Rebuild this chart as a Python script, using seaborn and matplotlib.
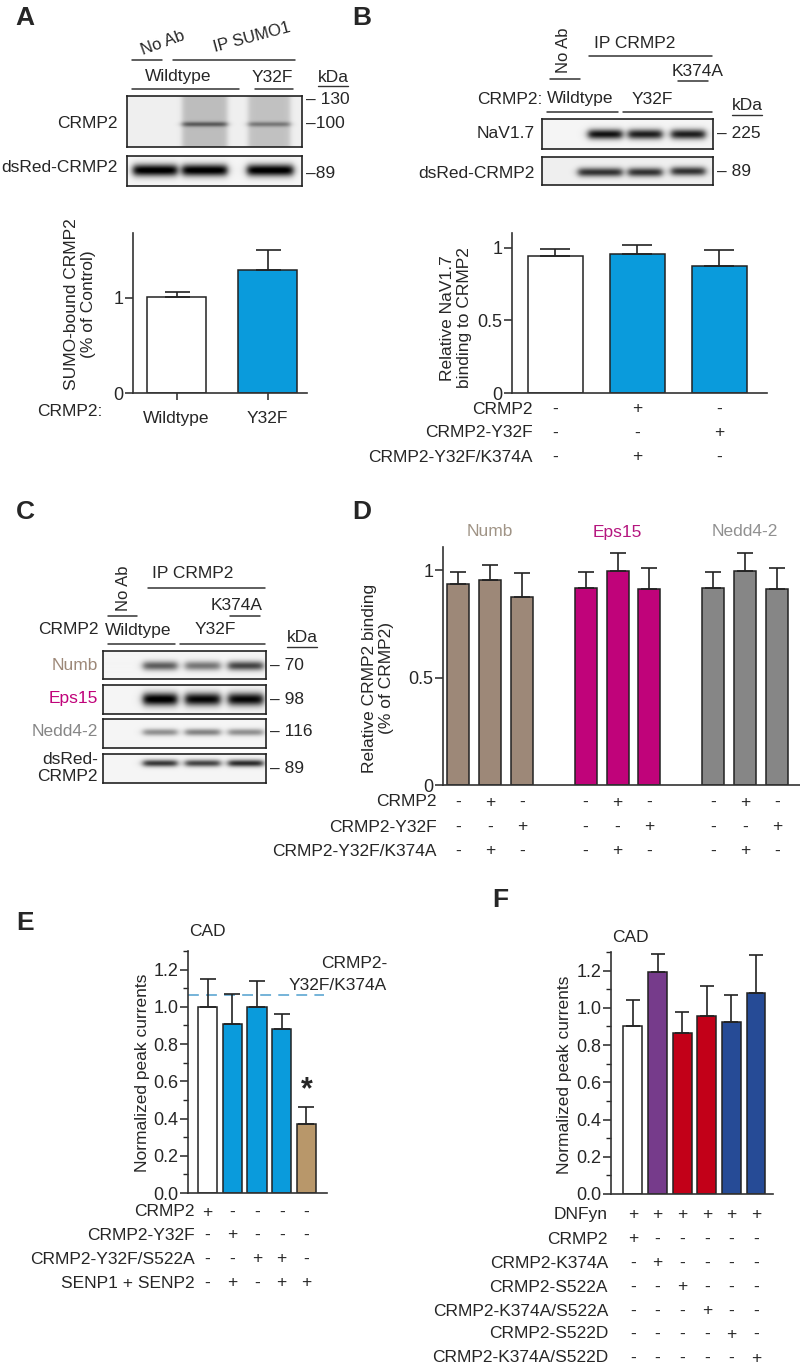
import numpy as np
import pandas as pd
import seaborn as sns
import matplotlib.pyplot as plt
from matplotlib.lines import Line2D
from matplotlib import transforms

# ---- data ----
# A: SUMO-bound CRMP2
a_labels = ['Wildtype', 'Y32F']
a_means = [1.01, 1.29]
a_errs = [0.05, 0.21]

# B: NaV1.7 binding to CRMP2
b_means = [0.94, 0.955, 0.876]
b_errs = [0.05, 0.065, 0.105]
b_rows = ['CRMP2', 'CRMP2-Y32F', 'CRMP2-Y32F/K374A']
b_signs = [['-', '+', '-'], ['-', '-', '+'], ['-', '+', '-']]

# D: relative CRMP2 binding per partner
d_partners = ['Numb', 'Eps15', 'Nedd4-2']
d_numb = [0.938, 0.953, 0.876]
d_numb_err = [0.052, 0.07, 0.109]
d_eps15 = [0.915, 0.995, 0.912]
d_eps15_err = [0.075, 0.087, 0.098]
d_nedd = [0.915, 0.995, 0.912]
d_nedd_err = [0.075, 0.087, 0.098]

# E: CAD peak currents
e_means = [1.0, 0.91, 1.0, 0.88, 0.37]
e_errs = [0.15, 0.16, 0.14, 0.08, 0.09]
e_ref = 1.066
e_rows = ['CRMP2', 'CRMP2-Y32F', 'CRMP2-Y32F/S522A', 'SENP1 + SENP2']
e_signs = [['+', '-', '-', '-', '-'],
           ['-', '+', '-', '-', '-'],
           ['-', '-', '+', '+', '-'],
           ['-', '+', '-', '+', '+']]

# F: CAD peak currents with DNFyn
f_means = [0.90, 1.19, 0.865, 0.955, 0.925, 1.08]
f_errs = [0.14, 0.10, 0.115, 0.16, 0.145, 0.205]
f_rows = ['DNFyn', 'CRMP2', 'CRMP2-K374A', 'CRMP2-S522A', 'CRMP2-K374A/S522A',
          'CRMP2-S522D', 'CRMP2-K374A/S522D']
f_signs = [['+'] * 6,
           ['+', '-', '-', '-', '-', '-'],
           ['-', '+', '-', '-', '-', '-'],
           ['-', '-', '+', '-', '-', '-'],
           ['-', '-', '-', '+', '-', '-'],
           ['-', '-', '-', '-', '+', '-'],
           ['-', '-', '-', '-', '-', '+']]

BLUE = '#0a9bdc'
NUMB_C, EPS_C, NEDD_C = '#9d8878', '#c0037a', '#868686'

sns.set_style('ticks')
plt.rcParams['font.family'] = ['Liberation Sans', 'DejaVu Sans']
plt.rcParams['font.size'] = 12

W, H = 800, 1370
fig = plt.figure(figsize=(W / 100, H / 100), dpi=100)


def px_axes(x0, y0, x1, y1):
    return fig.add_axes([x0 / W, 1 - y1 / H, (x1 - x0) / W, (y1 - y0) / H])


def T(x, y, s, ha='center', va='center', **kw):
    fig.text(x / W, 1 - y / H, s, ha=ha, va=va, **kw)


def L(x0, x1, y, lw=1.1, color='#333333'):
    fig.add_artist(Line2D([x0 / W, x1 / W], [1 - y / H, 1 - y / H], lw=lw, color=color))


def blot(x0, y0, x1, y1, bands, bg=0.05, smears=()):
    ax = px_axes(x0, y0, x1, y1)
    xs = np.arange(x0, x1, 0.5)
    ys = np.arange(y0, y1, 0.5)
    X, Y = np.meshgrid(xs, ys)
    img = np.full(X.shape, bg)
    for (bx0, bx1, strength) in smears:
        prof = 0.5 * (np.tanh((X - bx0) / 3) - np.tanh((X - bx1) / 3))
        img += strength * prof
    for (bx0, bx1, yc, t, strength) in bands:
        prof = 0.5 * (np.tanh((X - bx0) / 4) - np.tanh((X - bx1) / 4))
        img += strength * prof * np.exp(-((Y - yc) / t) ** 2)
    ax.imshow(np.clip(img, 0, 1), cmap='gray_r', vmin=0, vmax=1, aspect='auto',
              extent=[x0, x1, y1, y0], interpolation='bilinear')
    ax.set_xticks([])
    ax.set_yticks([])
    for s in ax.spines.values():
        s.set_linewidth(1.2)
        s.set_color('#222222')
    return ax


def bar_panel(rect, order, cats, means, errs, colors, width, ylim, xlim, capsize):
    ax = px_axes(*rect)
    df = pd.DataFrame({'cat': cats, 'val': means})
    sns.barplot(data=df, x='cat', y='val', hue='cat', order=order,
                palette=dict(zip(cats, colors)), dodge=False, width=width, saturation=1,
                edgecolor='#222222', linewidth=1.1, errorbar=None, legend=False, ax=ax)
    pos = [order.index(c) for c in cats]
    ax.errorbar(pos, means, yerr=[np.zeros(len(errs)), errs], fmt='none',
                ecolor='#222222', elinewidth=1.2, capsize=capsize, capthick=1.2)
    ax.set_ylim(*ylim)
    ax.set_xlim(*xlim)
    ax.set_xlabel('')
    ax.set_ylabel('')
    sns.despine(ax=ax)
    for s in ['left', 'bottom']:
        ax.spines[s].set_linewidth(1.2)
        ax.spines[s].set_color('#333333')
    ax.tick_params(axis='y', labelsize=13, length=6, width=1.1, pad=1)
    ax.tick_params(axis='x', length=0)
    ax.set_xticks([])
    return ax, pos


def sign_table(ax, pos, rows, signs, row_y, label_x, fs=12.5):
    tr = transforms.blended_transform_factory(ax.transData, fig.transFigure)
    for r, row in enumerate(rows):
        T(label_x, row_y[r], row, ha='right', fontsize=fs)
        for p, s in zip(pos, signs[r]):
            ax.text(p, 1 - row_y[r] / H, s, transform=tr, ha='center', va='center', fontsize=fs)


# ================= Panel A =================
T(25, 18, 'A', fontsize=19, fontweight='bold')
T(163, 43, 'No Ab', rotation=20, fontsize=12)
T(252, 37, 'IP SUMO1', rotation=15, fontsize=12)
L(132, 162, 60)
L(173, 295, 60)
T(178, 77, 'Wildtype', fontsize=12.5)
T(272, 77, 'Y32F', fontsize=12.5)
L(132, 239, 89)
L(255, 293, 89)
T(333, 77, 'kDa', fontsize=12.5)
L(318, 348, 86, lw=1)
blot(127, 96, 302, 147,
     bands=[(182, 227, 124, 2.5, 0.4), (248, 290, 124, 2.5, 0.3)],
     bg=0.06, smears=[(182, 227, 0.2), (248, 290, 0.18)])
blot(127, 156, 302, 186,
     bands=[(133, 177, 170, 6, 1.0), (182, 227, 170, 6, 1.0), (247, 293, 170, 6, 1.0)], bg=0.04)
T(118, 124, 'CRMP2', ha='right', fontsize=12.5)
T(118, 168, 'dsRed-CRMP2', ha='right', fontsize=12.5)
T(306, 99, '– 130', ha='left', fontsize=12.5)
T(306, 124, '–100', ha='left', fontsize=12.5)
T(306, 173, '–89', ha='left', fontsize=12.5)

ax_a, pos_a = bar_panel((133, 233, 307, 393), a_labels, a_labels, a_means, a_errs,
                        ['white', BLUE], 0.65, (0, 1.68), (-0.478, 1.434), 9)
ax_a.set_yticks([0, 1])
ax_a.set_yticklabels(['0', '1'])
ax_a.set_xticks(pos_a)
ax_a.set_xticklabels(a_labels, fontsize=12.5)
ax_a.tick_params(axis='x', length=5, width=1.1, pad=8)
T(80, 304, 'SUMO-bound CRMP2\n(% of Control)', rotation=90, fontsize=12.5, linespacing=1.1)
T(70, 411, 'CRMP2:', fontsize=12.5)

# ================= Panel B =================
T(362, 18, 'B', fontsize=19, fontweight='bold')
T(564, 50, 'No Ab', rotation=90, fontsize=12)
L(550, 580, 79)
T(635, 43, 'IP CRMP2', fontsize=12.5)
L(589, 712, 56)
T(698, 71, 'K374A', fontsize=12.5)
L(678, 708, 81)
T(543, 99, 'CRMP2:', ha='right', fontsize=12.5)
T(580, 99, 'Wildtype', fontsize=12.5)
T(652, 99, 'Y32F', fontsize=12.5)
L(547, 618, 112)
L(623, 712, 112)
T(747, 106, 'kDa', fontsize=12.5)
L(732, 762, 115, lw=1)
blot(542, 119, 713, 149,
     bands=[(588, 622, 134, 5, 0.9), (628, 662, 134, 5, 0.85), (671, 705, 134, 5, 0.85)], bg=0.04)
blot(542, 157, 713, 185,
     bands=[(578, 622, 172, 4.5, 0.75), (628, 662, 172, 4.5, 0.75), (671, 705, 171, 4.5, 0.75)], bg=0.06)
T(535, 134, 'NaV1.7', ha='right', fontsize=12.5)
T(535, 173, 'dsRed-CRMP2', ha='right', fontsize=12.5)
T(717, 134, '– 225', ha='left', fontsize=12.5)
T(717, 172, '– 89', ha='left', fontsize=12.5)

b_cats = ['b0', 'b1', 'b2']
ax_b, pos_b = bar_panel((512, 233, 767, 393), b_cats, b_cats, b_means, b_errs,
                        ['white', BLUE, BLUE], 0.67, (0, 1.10), (-0.53, 2.585), 11)
ax_b.set_yticks([0, 0.5, 1])
ax_b.set_yticklabels(['0', '0.5', '1'])
T(456, 318, 'Relative NaV1.7\nbinding to CRMP2', rotation=90, fontsize=12.5, linespacing=1.1)
sign_table(ax_b, pos_b, b_rows, b_signs, [409, 433, 457], 533)

# ================= Panel C =================
T(25, 512, 'C', fontsize=19, fontweight='bold')
T(123, 588, 'No Ab', rotation=90, fontsize=12)
L(108, 137, 616)
T(193, 573, 'IP CRMP2', fontsize=12.5)
L(148, 265, 588)
T(237, 606, 'K374A', fontsize=12.5)
L(230, 260, 616)
T(68, 630, 'CRMP2', fontsize=12.5)
T(138, 630, 'Wildtype', fontsize=12.5)
T(215, 630, 'Y32F', fontsize=12.5)
L(108, 175, 644)
L(180, 265, 644)
T(302, 638, 'kDa', fontsize=12.5)
L(287, 317, 647, lw=1)
lanes_c = [(143, 177), (185, 220), (228, 263)]
blot(103, 651, 266, 679, bands=[(a, b, 666, 4.5, s) for (a, b), s in zip(lanes_c, [0.6, 0.5, 0.7])], bg=0.04)
blot(103, 685, 266, 714, bands=[(a, b, 699, 6.5, s) for (a, b), s in zip(lanes_c, [1.0, 0.95, 0.95])], bg=0.04)
blot(103, 719, 266, 748, bands=[(a, b, 732, 3.5, s) for (a, b), s in zip(lanes_c, [0.4, 0.45, 0.4])], bg=0.04)
blot(103, 754, 266, 783, bands=[(a, b, 763, 3.5, s) for (a, b), s in zip(lanes_c, [0.75, 0.7, 0.8])], bg=0.04)
T(98, 666, 'Numb', ha='right', fontsize=12.5, color=NUMB_C)
T(98, 699, 'Eps15', ha='right', fontsize=12.5, color=EPS_C)
T(98, 732, 'Nedd4-2', ha='right', fontsize=12.5, color=NEDD_C)
T(98, 768, 'dsRed-\nCRMP2', ha='right', fontsize=12.5, linespacing=1.15)
T(270, 666, '– 70', ha='left', fontsize=12.5)
T(270, 699, '– 98', ha='left', fontsize=12.5)
T(270, 732, '– 116', ha='left', fontsize=12.5)
T(270, 768, '– 89', ha='left', fontsize=12.5)

# ================= Panel D =================
T(362, 512, 'D', fontsize=19, fontweight='bold')
d_order = ['n0', 'n1', 'n2', 'gap1', 'e0', 'e1', 'e2', 'gap2', 'd0', 'd1', 'd2']
d_cats = ['n0', 'n1', 'n2', 'e0', 'e1', 'e2', 'd0', 'd1', 'd2']
d_cols = [NUMB_C] * 3 + [EPS_C] * 3 + [NEDD_C] * 3
ax_d, pos_d = bar_panel((443, 547, 800, 785), d_order, d_cats, d_numb + d_eps15 + d_nedd,
                        d_numb_err + d_eps15_err + d_nedd_err, d_cols, 0.69,
                        (0, 1.108), (-0.47, 10.72), 6)
ax_d.set_yticks([0, 0.5, 1])
ax_d.set_yticklabels(['0', '0.5', '1'])
for i, (name, col) in enumerate(zip(d_partners, ['#a09486', '#b5167f', '#909090'])):
    ax_d.text(4 * i + 1, 1 - 532 / H, name, color=col, fontsize=12.5, ha='center', va='center',
              transform=transforms.blended_transform_factory(ax_d.transData, fig.transFigure))
T(378, 678, 'Relative CRMP2 binding\n(% of CRMP2)', rotation=90, fontsize=12.5, linespacing=1.1)
sign_table(ax_d, pos_d, b_rows, [s * 3 for s in b_signs], [802, 827, 851], 437)

# ================= Panel E =================
T(25, 923, 'E', fontsize=19, fontweight='bold')
T(207, 932, 'CAD', fontsize=12.5)
e_cats = ['e0', 'e1', 'e2', 'e3', 'e4']
ax_e, pos_e = bar_panel((188, 951, 327, 1193), e_cats, e_cats, e_means, e_errs,
                        ['white', BLUE, BLUE, BLUE, '#b8976a'], 0.77,
                        (0, 1.30), (-0.79, 4.83), 5.5)
ax_e.axhline(e_ref, xmin=0, xmax=0.98, color='#6aaed6', lw=1.3, dashes=(6, 4), zorder=0)
ax_e.set_yticks(np.arange(0, 1.21, 0.2))
ax_e.set_yticklabels([f'{v:.1f}' for v in np.arange(0, 1.21, 0.2)])
ax_e.set_yticks(np.arange(0.1, 1.31, 0.2), minor=True)
ax_e.tick_params(axis='y', which='minor', length=3.5, width=1)
ax_e.text(4, e_means[4] + e_errs[4] + 0.01, '*', ha='center', va='bottom', fontsize=22, fontweight='bold')
T(387, 963, 'CRMP2-', ha='right', fontsize=12.5)
T(387, 986, 'Y32F/K374A', ha='right', fontsize=12.5)
T(142, 1073, 'Normalized peak currents', rotation=90, fontsize=12.5)
sign_table(ax_e, pos_e, e_rows, e_signs, [1212, 1235, 1259, 1283], 195)

# ================= Panel F =================
T(500, 900, 'F', fontsize=19, fontweight='bold')
T(630, 937, 'CAD', fontsize=12.5)
f_cats = ['f0', 'f1', 'f2', 'f3', 'f4', 'f5']
ax_f, pos_f = bar_panel((611, 952, 773, 1194), f_cats, f_cats, f_means, f_errs,
                        ['white', '#763b8b', '#c20018', '#c20018', '#264b96', '#264b96'], 0.77,
                        (0, 1.30), (-0.89, 5.69), 5)
ax_f.set_yticks(np.arange(0, 1.21, 0.2))
ax_f.set_yticklabels([f'{v:.1f}' for v in np.arange(0, 1.21, 0.2)])
ax_f.set_yticks(np.arange(0.1, 1.31, 0.2), minor=True)
ax_f.tick_params(axis='y', which='minor', length=3.5, width=1)
T(565, 1075, 'Normalized peak currents', rotation=90, fontsize=12.5)
sign_table(ax_f, pos_f, f_rows, f_signs, [1215, 1239, 1263, 1287, 1311, 1334, 1358], 608)

fig.savefig('out.png', dpi=100)
